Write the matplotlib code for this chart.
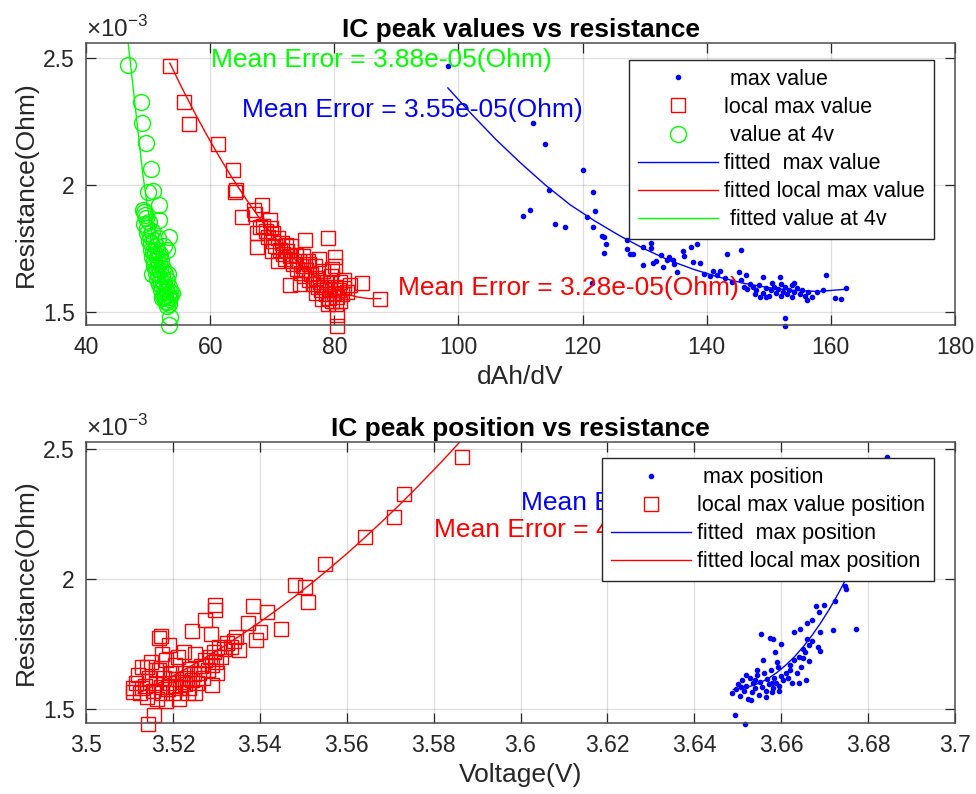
import matplotlib
matplotlib.use("Agg")
import matplotlib.pyplot as plt
from matplotlib.ticker import FuncFormatter

plt.rcParams["font.family"] = ["Liberation Sans", "DejaVu Sans"]
plt.rcParams["mathtext.fontset"] = "custom"
plt.rcParams["mathtext.rm"] = "Liberation Sans"

# ---- top panel: IC peak values (dAh/dV) vs resistance (x1e-3 Ohm) ----
max_val_x = [98.3, 112.0, 114.0, 120.1, 114.6, 121.6, 110.4, 111.5, 122.0, 120.7,
             115.5, 117.2, 121.6, 123.1, 123.4, 123.7, 123.5, 121.5, 127.1, 127.1,
             127.6, 128.2, 129.7, 129.7, 131.1, 131.1, 131.4, 131.8, 132.7, 133.0,
             134.0, 134.5, 135.2, 136.2, 137.5, 138.4, 136.4, 134.8, 133.6, 137.8,
             138.9, 143.2, 145.6, 145.2, 146.4, 141.0, 142.2, 141.6, 149.1, 151.8,
             154.0, 159.2, 162.5, 160.7, 161.6, 152.6, 152.6, 156.1, 148.6, 157.7,
             139.5, 140.5, 143.0, 144.0, 147.0, 146.0, 145.5, 146.5, 147.5, 148.0,
             148.5, 149.0, 149.5, 150.0, 150.3, 150.8, 151.2, 151.5, 151.9, 152.3,
             152.6, 153.0, 153.3, 153.7, 154.1, 154.5, 155.0, 155.4, 155.8, 156.3,
             152.0, 150.5, 149.6, 147.8, 153.8, 157.0, 158.8]
max_val_r = [2.470, 2.243, 2.163, 2.059, 1.980, 1.971, 1.878, 1.900, 1.898, 1.875,
             1.846, 1.836, 1.833, 1.800, 1.795, 1.768, 1.733, 1.613, 1.783, 1.750,
             1.729, 1.730, 1.757, 1.685, 1.770, 1.752, 1.692, 1.700, 1.724, 1.678,
             1.715, 1.705, 1.659, 1.742, 1.757, 1.767, 1.720, 1.690, 1.705, 1.698,
             1.692, 1.728, 1.744, 1.656, 1.646, 1.660, 1.662, 1.645, 1.637, 1.637,
             1.613, 1.646, 1.593, 1.554, 1.550, 1.478, 1.446, 1.547, 1.560, 1.580,
             1.650, 1.640, 1.635, 1.620, 1.610, 1.600, 1.625, 1.590, 1.600, 1.585,
             1.605, 1.575, 1.595, 1.565, 1.585, 1.600, 1.575, 1.590, 1.565, 1.580,
             1.600, 1.570, 1.588, 1.560, 1.578, 1.595, 1.570, 1.585, 1.565, 1.578,
             1.610, 1.615, 1.560, 1.570, 1.605, 1.560, 1.585]

local_val_x = [53.5, 55.8, 56.6, 61.2, 63.7, 64.0, 64.2, 67.0, 68.3, 65.2,
               69.6, 67.3, 67.5, 68.0, 67.5, 70.2, 72.3, 75.3, 79.0, 72.9,
               84.4, 87.3, 80.4, 80.4, 80.1, 80.1, 82.5, 81.5,
               68.5, 69.0, 69.3, 69.8, 70.1, 70.5, 70.9, 71.2, 71.5, 71.8,
               72.0, 72.4, 72.8, 73.1, 73.4, 73.8, 74.0, 74.3, 74.6, 74.9,
               75.2, 75.5, 75.8, 76.0, 76.3, 76.6, 76.9, 77.1, 77.4, 77.7,
               77.9, 78.2, 78.4, 78.7, 78.9, 79.1, 79.3, 79.5, 79.7, 79.9,
               80.1, 80.3, 80.5, 80.7, 80.9, 81.2, 81.6, 79.0, 78.0, 77.0,
               76.0, 75.0, 73.0, 71.0, 70.0, 74.5, 82.0, 81.0, 79.6, 77.6]
local_val_r = [2.470, 2.328, 2.240, 2.161, 2.059, 1.974, 1.980, 1.900, 1.920, 1.875,
               1.862, 1.885, 1.810, 1.835, 1.757, 1.810, 1.764, 1.783, 1.790, 1.606,
               1.615, 1.551, 1.488, 1.445, 1.718, 1.680, 1.606, 1.626,
               1.840, 1.820, 1.795, 1.830, 1.780, 1.760, 1.790, 1.745, 1.770, 1.730,
               1.710, 1.740, 1.720, 1.700, 1.690, 1.725, 1.670, 1.700, 1.655, 1.680,
               1.640, 1.665, 1.700, 1.625, 1.650, 1.610, 1.680, 1.635, 1.600, 1.620,
               1.585, 1.660, 1.600, 1.570, 1.620, 1.555, 1.590, 1.640, 1.545, 1.575,
               1.600, 1.530, 1.560, 1.585, 1.620, 1.570, 1.595, 1.530, 1.550, 1.575,
               1.690, 1.720, 1.760, 1.700, 1.740, 1.610, 1.580, 1.545, 1.670, 1.710]

v4_x = [46.7, 48.9, 49.1, 49.7, 50.5, 50.0, 50.8, 51.7, 49.2, 51.8, 49.5, 53.3,
        53.0, 53.5, 53.3,
        49.3, 49.6, 49.4, 49.8, 50.1, 49.9, 50.3, 50.6, 50.2, 50.5, 50.9, 51.2,
        50.4, 50.8, 51.1, 51.5, 50.7, 51.0, 51.4, 51.8, 50.9, 51.3, 51.7, 52.1,
        51.2, 51.6, 52.0, 52.4, 51.5, 51.9, 52.3, 52.7, 51.8, 52.2, 52.6, 53.0,
        52.1, 52.5, 52.9, 53.3, 52.4, 52.8, 53.2, 53.5, 52.7, 53.1, 53.4, 53.0,
        53.3, 53.6, 52.0, 52.5, 51.6, 53.2, 52.3, 50.6, 53.8]
v4_r = [2.472, 2.328, 2.243, 2.164, 2.062, 1.974, 1.975, 1.921, 1.900, 1.862, 1.880, 1.797,
        1.744, 1.482, 1.449,
        1.895, 1.870, 1.845, 1.830, 1.855, 1.810, 1.800, 1.820, 1.780, 1.770, 1.785, 1.760,
        1.745, 1.740, 1.730, 1.745, 1.715, 1.700, 1.710, 1.720, 1.680, 1.675, 1.690, 1.700,
        1.655, 1.650, 1.665, 1.675, 1.630, 1.625, 1.640, 1.650, 1.610, 1.600, 1.615, 1.625,
        1.585, 1.580, 1.590, 1.600, 1.565, 1.560, 1.570, 1.580, 1.545, 1.540, 1.550, 1.525,
        1.530, 1.560, 1.730, 1.760, 1.790, 1.650, 1.555, 1.650, 1.575]

# fitted curves
fit_max_x = [98.3, 102, 106, 110, 114, 118, 122, 126, 130, 134, 138, 142, 146, 150, 154, 158, 162.6]
fit_max_r = [2.382, 2.282, 2.180, 2.087, 2.000, 1.922, 1.858, 1.800, 1.748, 1.703, 1.667,
             1.637, 1.613, 1.596, 1.585, 1.581, 1.590]
fit_local_x = [53.5, 55.5, 57.5, 59.5, 61.5, 63.5, 65.5, 67.5, 69.5, 71.5, 73.5, 75.5,
               77.5, 79.5, 81.5, 83.5, 85.5, 87.5]
fit_local_r = [2.480, 2.380, 2.285, 2.195, 2.110, 2.030, 1.955, 1.885, 1.820, 1.762, 1.710,
               1.665, 1.627, 1.597, 1.575, 1.560, 1.553, 1.553]
fit_v4_x = [46.7, 47.2, 47.7, 48.2, 48.7, 49.2, 49.8, 50.4, 51.0, 51.7, 52.4, 53.1, 53.8]
fit_v4_r = [2.580, 2.470, 2.360, 2.250, 2.140, 2.035, 1.930, 1.840, 1.765, 1.700, 1.645,
            1.600, 1.565]

# ---- bottom panel: IC peak position (V) vs resistance ----
max_pos_x = [3.6494, 3.6517, 3.6553, 3.6575, 3.6582, 3.6600, 3.6586, 3.6629, 3.6643, 3.6659,
             3.6670, 3.6679, 3.6698, 3.6688, 3.6724, 3.6747, 3.6750, 3.6771, 3.6720, 3.6689,
             3.6689, 3.6684, 3.6665, 3.6650, 3.6651, 3.6665, 3.6636, 3.6620, 3.6590, 3.6559,
             3.6657, 3.6641, 3.6625, 3.6578, 3.6486, 3.6843,
             3.6495, 3.6500, 3.6505, 3.6510, 3.6515, 3.6520, 3.6524, 3.6528, 3.6532, 3.6536,
             3.6540, 3.6544, 3.6548, 3.6552, 3.6556, 3.6560, 3.6564, 3.6568, 3.6572, 3.6576,
             3.6580, 3.6584, 3.6588, 3.6592, 3.6596, 3.6600, 3.6605, 3.6610, 3.6615, 3.6620,
             3.6630, 3.6640, 3.6645, 3.6655, 3.6670, 3.6660, 3.6530, 3.6545, 3.6565, 3.6518,
             3.6578, 3.6595, 3.6508, 3.6540]
max_pos_r = [1.477, 1.442, 1.788, 1.774, 1.770, 1.750, 1.720, 1.797, 1.806, 1.832,
             1.842, 1.896, 1.900, 1.874, 1.915, 1.972, 1.962, 1.806, 1.804, 1.797,
             1.724, 1.740, 1.745, 1.730, 1.695, 1.686, 1.637, 1.650, 1.682, 1.688,
             1.612, 1.601, 1.600, 1.567, 1.560, 2.470,
             1.575, 1.595, 1.550, 1.610, 1.570, 1.590, 1.540, 1.620, 1.565, 1.600,
             1.580, 1.630, 1.555, 1.605, 1.585, 1.640, 1.570, 1.615, 1.595, 1.650,
             1.580, 1.620, 1.600, 1.660, 1.590, 1.625, 1.610, 1.640, 1.620, 1.670,
             1.690, 1.700, 1.660, 1.720, 1.760, 1.770, 1.535, 1.650, 1.545, 1.630,
             1.600, 1.570, 1.585, 1.610]

local_pos_x = [3.5865, 3.5732, 3.5709, 3.5642, 3.5550, 3.5481, 3.5504, 3.5512, 3.5385, 3.5416,
               3.5449, 3.5400, 3.5374, 3.5391, 3.5297, 3.5298, 3.5274, 3.5243, 3.5169, 3.5172,
               3.5192, 3.5351, 3.5301, 3.5289, 3.5142, 3.5156, 3.5109, 3.5108, 3.5345, 3.5288,
               3.5115, 3.5120, 3.5125, 3.5130, 3.5135, 3.5140, 3.5145, 3.5150, 3.5155, 3.5160,
               3.5163, 3.5168, 3.5172, 3.5176, 3.5180, 3.5184, 3.5188, 3.5192, 3.5196, 3.5200,
               3.5204, 3.5208, 3.5212, 3.5216, 3.5220, 3.5224, 3.5228, 3.5232, 3.5236, 3.5240,
               3.5244, 3.5248, 3.5252, 3.5256, 3.5260, 3.5265, 3.5270, 3.5275, 3.5280, 3.5285,
               3.5290, 3.5295, 3.5300, 3.5305, 3.5310, 3.5318, 3.5325, 3.5333, 3.5340, 3.5215,
               3.5185, 3.5235, 3.5160, 3.5140, 3.5205, 3.5225, 3.5250, 3.5130, 3.5175]
local_pos_r = [2.468, 2.326, 2.240, 2.160, 2.056, 1.977, 1.968, 1.913, 1.896, 1.872,
               1.806, 1.797, 1.832, 1.765, 1.900, 1.880, 1.842, 1.800, 1.774, 1.780,
               1.746, 1.727, 1.637, 1.592, 1.442, 1.477, 1.580, 1.565, 1.778, 1.790,
               1.600, 1.630, 1.560, 1.660, 1.590, 1.545, 1.620, 1.680, 1.570, 1.600,
               1.540, 1.650, 1.585, 1.560, 1.620, 1.690, 1.575, 1.600, 1.640, 1.560,
               1.590, 1.615, 1.700, 1.580, 1.605, 1.640, 1.595, 1.620, 1.580, 1.655,
               1.610, 1.635, 1.710, 1.600, 1.640, 1.665, 1.620, 1.690, 1.650, 1.700,
               1.670, 1.720, 1.680, 1.740, 1.700, 1.730, 1.755, 1.740, 1.760, 1.540,
               1.530, 1.560, 1.650, 1.660, 1.670, 1.720, 1.560, 1.580, 1.710]

fit_maxpos_x = [3.6490, 3.6510, 3.6530, 3.6550, 3.6570, 3.6590, 3.6610, 3.6630, 3.6650, 3.6670,
                3.6690, 3.6710, 3.6730, 3.6750, 3.6770, 3.6790, 3.6810, 3.6830, 3.6845]
fit_maxpos_r = [1.575, 1.580, 1.588, 1.600, 1.617, 1.640, 1.668, 1.700, 1.738, 1.781,
                1.829, 1.882, 1.940, 2.003, 2.070, 2.143, 2.220, 2.302, 2.366]
fit_localpos_x = [3.512, 3.516, 3.520, 3.524, 3.528, 3.532, 3.536, 3.540, 3.544, 3.548,
                  3.552, 3.556, 3.560, 3.564, 3.568, 3.572, 3.576, 3.580, 3.584, 3.588]
fit_localpos_r = [1.560, 1.593, 1.627, 1.664, 1.703, 1.744, 1.788, 1.834, 1.882, 1.932,
                  1.985, 2.040, 2.097, 2.157, 2.219, 2.283, 2.350, 2.419, 2.490, 2.563]

DARK = "#262626"
fmt = FuncFormatter(lambda v, p: f"{v:g}")


def style_axes(ax, xlim, xticks, ylim):
    ax.set_xlim(*xlim)
    ax.set_ylim(*ylim)
    ax.set_xticks(xticks)
    ax.set_yticks([1.5, 2.0, 2.5])
    ax.xaxis.set_major_formatter(fmt)
    ax.yaxis.set_major_formatter(fmt)
    ax.grid(True, color=DARK, alpha=0.15, linewidth=0.9)
    ax.set_axisbelow(True)
    ax.tick_params(direction="in", length=7, width=0.9, top=True, right=True,
                   labelsize=16.5, colors=DARK, pad=8)
    for s in ax.spines.values():
        s.set_color("#4d4d4d")
        s.set_linewidth(1.1)
    ax.set_ylabel("Resistance(Ohm)", fontsize=19, color=DARK)
    ax.text(0.0, 1.005, "×10$^{-3}$", transform=ax.transAxes, fontsize=17.5,
            color=DARK, ha="left", va="bottom")


def add_legend(ax, anchor):
    leg = ax.legend(loc="upper right", bbox_to_anchor=anchor, fontsize=15.5,
                    fancybox=False, framealpha=1, edgecolor=DARK, handlelength=3.7,
                    handletextpad=0.3, labelspacing=0.33, borderpad=0.42,
                    borderaxespad=0, numpoints=1)
    leg.get_frame().set_linewidth(1.0)
    leg.set_zorder(10)


fig = plt.figure(figsize=(9.76, 7.94), dpi=100)
ax1 = fig.add_axes([0.0881, 0.5907, 0.8904, 0.3552])
ax2 = fig.add_axes([0.0881, 0.0894, 0.8904, 0.3539])

# top
ax1.plot(max_val_x, max_val_r, ".", color="blue", ms=6, clip_on=False, label=" max value")
ax1.plot(local_val_x, local_val_r, "s", mfc="none", mec="red", ms=10, mew=1.0,
         clip_on=False, label="local max value")
ax1.plot(v4_x, v4_r, "o", mfc="none", mec="#00ff00", ms=11.5, mew=1.0,
         clip_on=False, label=" value at 4v")
ax1.plot(fit_max_x, fit_max_r, "-", color="blue", lw=1.0, label="fitted  max value")
ax1.plot(fit_local_x, fit_local_r, "-", color="red", lw=1.0, label="fitted local max value")
ax1.plot(fit_v4_x, fit_v4_r, "-", color="#00ff00", lw=1.0, label=" fitted value at 4v")
style_axes(ax1, (40, 180), list(range(40, 181, 20)), (1.449, 2.559))
ax1.set_xlabel("dAh/dV", fontsize=19, color=DARK, labelpad=4)
ax1.set_title("IC peak values vs resistance", fontsize=19, fontweight="bold", pad=4)
ax1.text(60.2, 2.49, "Mean Error = 3.88e-05(Ohm)", color="#00ff00", fontsize=19, va="center")
ax1.text(65.2, 2.295, "Mean Error = 3.55e-05(Ohm)", color="blue", fontsize=19, va="center")
ax1.text(90.2, 1.594, "Mean Error = 3.28e-05(Ohm)", color="red", fontsize=19, va="center")
add_legend(ax1, (0.976, 0.94))

# bottom
ax2.plot(max_pos_x, max_pos_r, ".", color="blue", ms=6, clip_on=False, label=" max position")
ax2.plot(local_pos_x, local_pos_r, "s", mfc="none", mec="red", ms=10, mew=1.0,
         clip_on=False, label="local max value position")
ax2.plot(fit_maxpos_x, fit_maxpos_r, "-", color="blue", lw=1.0, label="fitted  max position")
ax2.plot(fit_localpos_x, fit_localpos_r, "-", color="red", lw=1.0, label="fitted local max position")
style_axes(ax2, (3.5, 3.7), [3.5 + 0.02 * i for i in range(11)], (1.446, 2.527))
ax2.set_xlabel("Voltage(V)", fontsize=19, color=DARK, labelpad=4)
ax2.set_title("IC peak position vs resistance", fontsize=19, fontweight="bold", pad=4)
# these two labels sit partly under the legend, as in the original figure
ax2.text(3.600, 2.292, "Mean Error = 3.02e-05(Ohm)", color="blue", fontsize=19, va="center")
ax2.text(3.580, 2.188, "Mean Error = 4.16e-05(Ohm)", color="red", fontsize=19, va="center")
add_legend(ax2, (0.976, 0.943))

fig.savefig("out.png", dpi=100)
